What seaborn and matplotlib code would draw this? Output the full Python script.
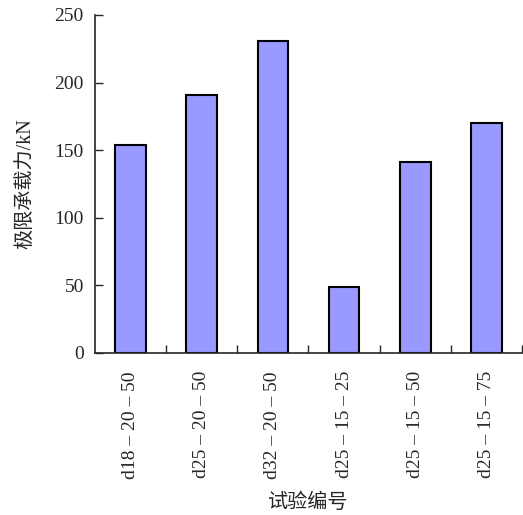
import numpy as np
import pandas as pd
import seaborn as sns
import matplotlib
matplotlib.use('Agg')
import matplotlib.pyplot as plt
from matplotlib.ticker import FixedLocator

sns.set_style('ticks')
plt.rcParams['font.family'] = ['Liberation Serif', 'Noto Sans CJK SC']
plt.rcParams['xtick.direction'] = 'in'
plt.rcParams['ytick.direction'] = 'in'

# data
specimens = ['d18 – 20 – 50', 'd25 – 20 – 50', 'd32 – 20 – 50',
             'd25 – 15 – 25', 'd25 – 15 – 50', 'd25 – 15 – 75']
loads = [154, 191, 231, 49, 141, 170]
yticks = [0, 50, 100, 150, 200, 250]

df = pd.DataFrame({'specimen': specimens, 'load': loads})

fig = plt.figure(figsize=(5.23, 5.15), dpi=100)
ax = fig.add_axes([0.1816, 0.3146, 0.8164, 0.6563])

sns.barplot(data=df, x='specimen', y='load', ax=ax, color='#9999FF',
            saturation=1, width=0.43, edgecolor='black', linewidth=1.5)

ax.set_xlim(-0.5, len(specimens) - 0.5)
ax.set_ylim(0, 250)
ax.set_yticks(yticks)
ax.xaxis.set_minor_locator(FixedLocator(np.arange(0.5, len(specimens), 1.0)))

ax.tick_params(axis='y', direction='in', length=6, width=1, labelsize=14, pad=8)
ax.tick_params(axis='x', which='major', direction='in', length=0, labelsize=14, pad=13)
ax.tick_params(axis='x', which='minor', direction='in', length=6, width=1)
for lab in ax.get_xticklabels():
    lab.set_rotation(90)

sns.despine(ax=ax)
for s in ['left', 'bottom']:
    ax.spines[s].set_linewidth(1.2)

ax.set_xlabel('试验编号', fontsize=14.5, labelpad=11)
ax.set_ylabel('极限承载力/kN', fontsize=14.5, labelpad=14)

fig.savefig('out.png', dpi=100)
